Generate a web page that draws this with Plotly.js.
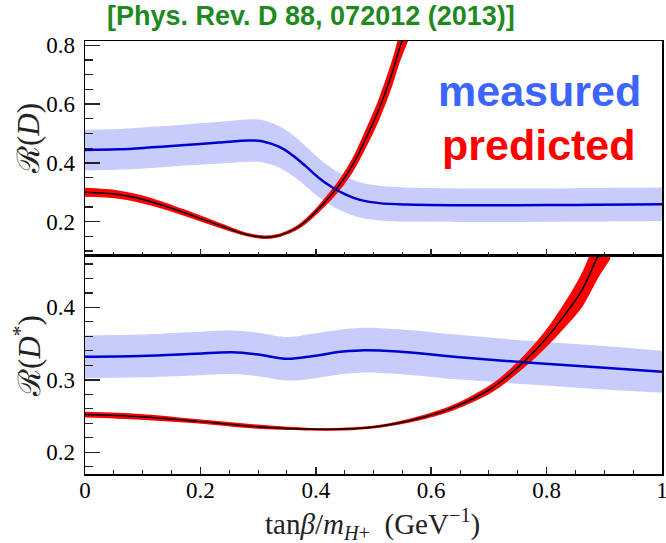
<!DOCTYPE html>
<html>
<head>
<meta charset="utf-8">
<script src="https://cdn.plot.ly/plotly-3.0.1.min.js"></script>
<style>html,body{margin:0;padding:0;background:#fff;}#chart{width:666px;height:543px;}</style>
</head>
<body>
<div id="chart"></div>
<script>
// ---- Top panel: R(D) ----
const xTopMeas = [0, 0.058, 0.116, 0.174, 0.232, 0.284, 0.307, 0.336, 0.359, 0.383, 0.406, 0.429, 0.452, 0.475, 0.51, 0.557, 0.65, 0.75, 0.85, 0.95, 1.0];
const rDMeas   = [0.444, 0.446, 0.453, 0.461, 0.469, 0.476, 0.474, 0.455, 0.427, 0.388, 0.348, 0.316, 0.292, 0.275, 0.263, 0.258, 0.256, 0.256, 0.257, 0.258, 0.259];
const rDMeasErr= [0.069, 0.069, 0.070, 0.070, 0.071, 0.072, 0.072, 0.071, 0.070, 0.068, 0.066, 0.064, 0.062, 0.060, 0.059, 0.058, 0.057, 0.057, 0.057, 0.057, 0.057];

const xTopPred = [0, 0.058, 0.116, 0.174, 0.232, 0.267, 0.29, 0.31, 0.33, 0.348, 0.371, 0.394, 0.417, 0.441, 0.464, 0.487, 0.51, 0.533, 0.545, 0.56];
const rDPred   = [0.300, 0.292, 0.267, 0.229, 0.188, 0.164, 0.152, 0.147, 0.150, 0.161, 0.184, 0.222, 0.269, 0.325, 0.393, 0.484, 0.585, 0.710, 0.79, 0.87];
const rDPredErr= [0.015, 0.014, 0.013, 0.011, 0.009, 0.007, 0.006, 0.006, 0.006, 0.006, 0.008, 0.011, 0.015, 0.019, 0.025, 0.032, 0.038, 0.045, 0.05, 0.055];

// ---- Bottom panel: R(D*) ----
const xBotMeas = [0, 0.096, 0.192, 0.255, 0.300, 0.351, 0.396, 0.447, 0.485, 0.543, 0.639, 0.766, 0.894, 1.0];
const rDsMeas  = [0.332, 0.333, 0.336, 0.338, 0.335, 0.329, 0.333, 0.339, 0.341, 0.339, 0.332, 0.324, 0.317, 0.311];
const rDsMeasErr=[0.0295, 0.0295, 0.030, 0.030, 0.030, 0.030, 0.031, 0.031, 0.031, 0.031, 0.031, 0.030, 0.030, 0.029];

const xBotPred = [0, 0.096, 0.192, 0.287, 0.383, 0.447, 0.511, 0.575, 0.639, 0.702, 0.734, 0.766, 0.798, 0.830, 0.862, 0.888, 0.91];
const rDsPred  = [0.252, 0.249, 0.243, 0.236, 0.232, 0.232, 0.236, 0.246, 0.262, 0.287, 0.306, 0.329, 0.356, 0.388, 0.425, 0.469, 0.50];
const rDsPredErr=[0.004, 0.004, 0.003, 0.003, 0.002, 0.002, 0.002, 0.003, 0.004, 0.006, 0.007, 0.009, 0.012, 0.017, 0.024, 0.030, 0.034];

const xTickVals = [0, 0.2, 0.4, 0.6, 0.8, 1];

const BAND_BLUE = 'rgb(200,204,250)';
const LINE_BLUE = 'rgb(0,0,205)';
const BAND_RED = 'rgb(255,0,0)';
const SERIF = "'Liberation Serif', 'Times New Roman', serif";
const SANS = "'Liberation Sans', Arial, sans-serif";

function band(x, v, e, color, xa, ya) {
  const lo = v.map((d, i) => d - e[i]);
  const hi = v.map((d, i) => d + e[i]);
  return [
    {x: x, y: lo, xaxis: xa, yaxis: ya, mode: 'lines', line: {width: 0, shape: 'spline', color: color}, hoverinfo: 'skip'},
    {x: x, y: hi, xaxis: xa, yaxis: ya, mode: 'lines', line: {width: 0, shape: 'spline', color: color}, fill: 'tonexty', fillcolor: color, hoverinfo: 'skip'}
  ];
}
function line(x, v, color, w, xa, ya) {
  return {x: x, y: v, xaxis: xa, yaxis: ya, mode: 'lines', line: {color: color, width: w, shape: 'spline'}};
}

const data = [].concat(
  band(xTopMeas, rDMeas, rDMeasErr, BAND_BLUE, 'x2', 'y2'),
  band(xTopPred, rDPred, rDPredErr, BAND_RED, 'x2', 'y2'),
  [line(xTopMeas, rDMeas, LINE_BLUE, 2.5, 'x2', 'y2'),
   line(xTopPred, rDPred, 'black', 1.5, 'x2', 'y2')],
  band(xBotMeas, rDsMeas, rDsMeasErr, BAND_BLUE, 'x', 'y'),
  band(xBotPred, rDsPred, rDsPredErr, BAND_RED, 'x', 'y'),
  [line(xBotMeas, rDsMeas, LINE_BLUE, 2.5, 'x', 'y'),
   line(xBotPred, rDsPred, 'black', 1.5, 'x', 'y')]
);

function ax(extra) {
  return Object.assign({showline: true, mirror: true, linecolor: 'black', linewidth: 1.5, showgrid: false, zeroline: false,
    ticks: 'inside', tickcolor: '#222', tickwidth: 1.5, ticklabeloverflow: 'allow',
    tickfont: {family: SERIF, size: 23, color: 'black'}}, extra);
}
const split = 0.5035;

const layout = {
  width: 666, height: 543,
  margin: {l: 85, r: 4, t: 41, b: 69},
  paper_bgcolor: 'white', plot_bgcolor: 'white',
  font: {family: SERIF, size: 23, color: 'black'},
  showlegend: false,
  xaxis: ax({domain: [0, 1], range: [0, 1], anchor: 'y', tickvals: xTickVals, ticktext: xTickVals.map(String), ticklen: 7, ticklabelstandoff: -5,
    minor: {dtick: 0.05, tick0: 0, ticks: 'inside', ticklen: 4, tickcolor: '#222', tickwidth: 1}}),
  xaxis2: ax({domain: [0, 1], range: [0, 1], anchor: 'y2', matches: 'x', showticklabels: false, tickvals: xTickVals, ticklen: 7,
    minor: {dtick: 0.05, tick0: 0, ticks: 'inside', ticklen: 4, tickcolor: '#222', tickwidth: 1}}),
  yaxis: ax({domain: [0, split], range: [0.17, 0.471], dtick: 0.1, tick0: 0, ticklen: 15, ticklabelstandoff: 4,
    minor: {dtick: 0.02, tick0: 0, ticks: 'inside', ticklen: 8, tickcolor: '#222', tickwidth: 1.2}}),
  yaxis2: ax({domain: [split, 1], range: [0.083, 0.815], dtick: 0.2, tick0: 0, ticklen: 15, ticklabelstandoff: 4,
    minor: {dtick: 0.05, tick0: 0, ticks: 'inside', ticklen: 8, tickcolor: '#222', tickwidth: 1.2}}),
  annotations: [
    {text: '<b>[Phys. Rev. D 88, 072012 (2013)]</b>', xref: 'paper', yref: 'paper', x: (311 - 85) / 577, y: (474 - 16) / 433, xanchor: 'center', yanchor: 'middle', showarrow: false,
     font: {family: SANS, size: 27, color: '#1e8a1e'}},
    {text: '<b>measured</b>', xref: 'paper', yref: 'paper', x: (539 - 85) / 577, y: (474 - 91) / 433, xanchor: 'center', yanchor: 'middle', showarrow: false,
     font: {family: SANS, size: 43, color: 'rgb(60,100,255)'}},
    {text: '<b>predicted</b>', xref: 'paper', yref: 'paper', x: (539 - 85) / 577, y: (474 - 145) / 433, xanchor: 'center', yanchor: 'middle', showarrow: false,
     font: {family: SANS, size: 43, color: 'rgb(255,0,0)'}},
    {text: 'ℛ(<i>D</i>)', xref: 'paper', yref: 'paper', x: (28 - 85) / 577, y: (474 - 139) / 433, xanchor: 'center', yanchor: 'middle', textangle: -90, showarrow: false,
     font: {family: SERIF, size: 31, color: '#222'}},
    {text: 'ℛ(<i>D</i><sup>*</sup>)', xref: 'paper', yref: 'paper', x: (27 - 85) / 577, y: (474 - 356) / 433, xanchor: 'center', yanchor: 'middle', textangle: -90, showarrow: false,
     font: {family: SERIF, size: 31, color: '#222'}},
    {text: 'tan<i>β</i>/<i>m</i><sub><i>H</i>+</sub>  (GeV<sup>−1</sup>)', xref: 'paper', yref: 'paper', x: (372 - 85) / 577, y: (474 - 524) / 433, xanchor: 'center', yanchor: 'middle', showarrow: false,
     font: {family: SERIF, size: 29, color: '#222'}}
  ]
};

Plotly.newPlot('chart', data, layout, {staticPlot: true, displayModeBar: false});
</script>
</body>
</html>
